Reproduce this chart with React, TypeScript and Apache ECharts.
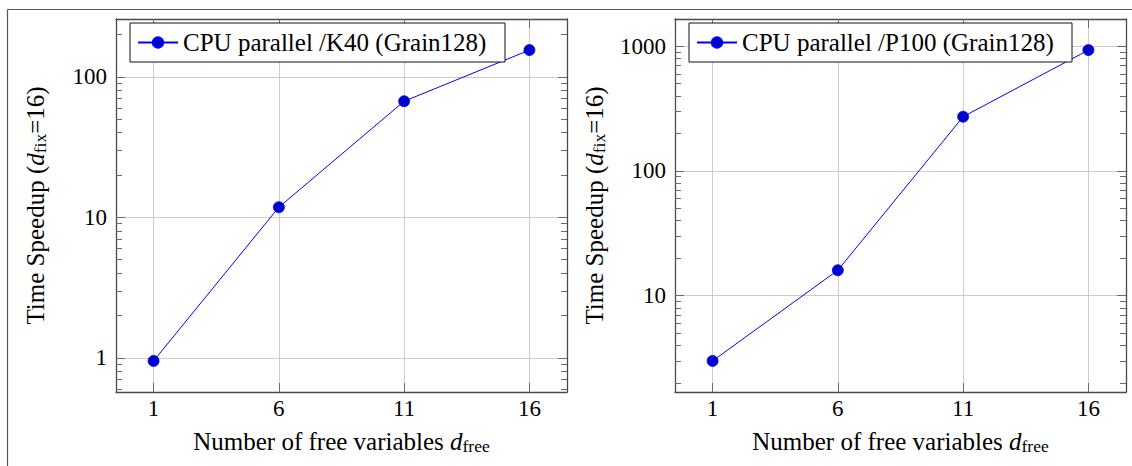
import React, { useEffect, useRef } from "react";
import * as echarts from "echarts";

// ---- data ----
const xValues = [1, 6, 11, 16];
const xTickValues = [1, 6, 11, 16];
const k40Speedup = [0.95, 11.8, 67, 155];
const p100Speedup = [3.0, 16, 272, 930];
const k40YTicks = [1, 10, 100];
const p100YTicks = [10, 100, 1000];
const k40Name = "CPU parallel /K40 (Grain128)";
const p100Name = "CPU parallel /P100 (Grain128)";
const yTitle = "{a|Time Speedup (}{i|d}{s|fix}{a|=16)}";
const xTitle = "{a|Number of free variables }{i|d}{s|free}";

const FONT = "Liberation Serif";
const FS = 25;
const TICK_FS = 23;

function enlarge(lo: number, hi: number): [number, number] {
  const pad = (hi - lo) * 0.1;
  return [lo - pad, hi + pad];
}
function logRange(vals: number[]): [number, number] {
  const logs = vals.map((v) => Math.log10(v));
  const [a, b] = enlarge(Math.min(...logs), Math.max(...logs));
  return [Math.pow(10, a), Math.pow(10, b)];
}
function minorTicks(min: number, max: number): number[] {
  const out: number[] = [];
  for (let e = Math.floor(Math.log10(min)); e <= Math.ceil(Math.log10(max)); e++) {
    for (let m = 2; m <= 9; m++) {
      const v = parseFloat((m * Math.pow(10, e)).toPrecision(6));
      if (v > min && v < max) out.push(v);
    }
  }
  return out;
}

const rich = {
  a: { fontFamily: FONT, fontSize: FS, lineHeight: 28, color: "#000" },
  i: { fontFamily: FONT, fontSize: FS, fontStyle: "italic", lineHeight: 28, color: "#000" },
  s: { fontFamily: FONT, fontSize: 17.5, lineHeight: 17, verticalAlign: "bottom", color: "#000" },
};

const AXIS_COLOR = "#4a4a4a";
const TICK_COLOR = "#6a6a6a";
const GRID_COLOR = "#cccccc";

function buildPanel(i: number, left: number, yVals: number[], yTicks: number[], name: string) {
  const [xmin, xmax] = enlarge(Math.min(...xValues), Math.max(...xValues));
  const [ymin, ymax] = logRange(yVals);
  const minors = minorTicks(ymin, ymax);
  const grid = { left, top: 19, width: 451, height: 373, outerBoundsMode: "none", containLabel: false };
  const xBase = { gridIndex: i, type: "value", min: xmin, max: xmax };
  const xAxes = [
    {
      ...xBase,
      position: "bottom",
      name: xTitle,
      nameLocation: "middle",
      nameGap: 35,
      nameTextStyle: { fontFamily: FONT, fontSize: FS, color: "#000", rich },
      axisLine: { show: true, onZero: false, lineStyle: { color: AXIS_COLOR, width: 1.3 } },
      axisTick: { show: true, inside: true, length: 9, customValues: xTickValues, lineStyle: { color: TICK_COLOR, width: 1 } },
      axisLabel: {
        show: true,
        customValues: xTickValues,
        margin: 5,
        fontFamily: FONT,
        fontSize: TICK_FS,
        color: "#000",
        formatter: (v: number) => String(Math.round(v)),
      },
      splitLine: { show: true, lineStyle: { color: GRID_COLOR, width: 1 } },
    },
    {
      ...xBase,
      position: "top",
      axisLine: { show: true, onZero: false, lineStyle: { color: AXIS_COLOR, width: 1.3 } },
      axisTick: { show: true, inside: true, length: 9, customValues: xTickValues, lineStyle: { color: TICK_COLOR, width: 1 } },
      axisLabel: { show: false },
      splitLine: { show: false },
    },
  ];
  const yBase = { gridIndex: i, type: "log", logBase: 10, min: ymin, max: ymax };
  const yAxes = [
    {
      ...yBase,
      position: "left",
      name: yTitle,
      nameLocation: "middle",
      nameRotate: 90,
      nameGap: 67,
      nameTextStyle: { fontFamily: FONT, fontSize: FS, color: "#000", rich },
      axisLine: { show: true, onZero: false, lineStyle: { color: AXIS_COLOR, width: 1.3 } },
      axisTick: { show: true, inside: true, length: 9, customValues: yTicks, lineStyle: { color: TICK_COLOR, width: 1 } },
      axisLabel: {
        show: true,
        customValues: yTicks,
        margin: 9,
        fontFamily: FONT,
        fontSize: TICK_FS,
        color: "#000",
        formatter: (v: number) => String(Math.round(v)),
      },
      splitLine: { show: true, lineStyle: { color: GRID_COLOR, width: 1 } },
    },
    {
      ...yBase,
      position: "left",
      axisLine: { show: false, onZero: false },
      axisTick: { show: true, inside: true, length: 6, customValues: minors, lineStyle: { color: TICK_COLOR, width: 1 } },
      axisLabel: { show: false },
      splitLine: { show: false },
    },
    {
      ...yBase,
      position: "right",
      axisLine: { show: true, onZero: false, lineStyle: { color: AXIS_COLOR, width: 1.3 } },
      axisTick: { show: true, inside: true, length: 9, customValues: yTicks, lineStyle: { color: TICK_COLOR, width: 1 } },
      axisLabel: { show: false },
      splitLine: { show: false },
    },
    {
      ...yBase,
      position: "right",
      axisLine: { show: false, onZero: false },
      axisTick: { show: true, inside: true, length: 6, customValues: minors, lineStyle: { color: TICK_COLOR, width: 1 } },
      axisLabel: { show: false },
      splitLine: { show: false },
    },
  ];
  const series = {
    name,
    type: "line",
    xAxisIndex: 2 * i,
    yAxisIndex: 4 * i,
    data: xValues.map((x, k) => [x, yVals[k]]),
    symbol: "circle",
    symbolSize: 11,
    lineStyle: { color: "#0000ff", width: 1 },
    itemStyle: { color: "#0000cc", borderColor: "#0000ff", borderWidth: 0.8 },
    emphasis: { disabled: true },
    z: 3,
  };
  return { grid, xAxes, yAxes, series };
}

export default function App() {
  const ref = useRef<HTMLDivElement>(null);
  useEffect(() => {
    if (!ref.current) return;
    const chart = echarts.init(ref.current, null, { renderer: "svg" });
    const p0 = buildPanel(0, 116, k40Speedup, k40YTicks, k40Name);
    const p1 = buildPanel(1, 675, p100Speedup, p100YTicks, p100Name);
    const legendBase = {
      orient: "horizontal",
      top: 23,
      padding: [7, 14, 7, 7],
      itemWidth: 40,
      itemHeight: 13,
      itemGap: 0,
      borderColor: "#111",
      borderWidth: 1,
      borderRadius: 0,
      backgroundColor: "#fff",
      selectedMode: false,
      z: 10,
    };
    const legendText = (w: number) => ({
      fontFamily: FONT,
      fontSize: FS,
      color: "#000",
      lineHeight: 25,
      width: w,
      rich: { a: { fontFamily: FONT, fontSize: FS, color: "#000", lineHeight: 25 } },
    });
    chart.setOption({
      animation: false,
      backgroundColor: "#fff",
      textStyle: { fontFamily: FONT },
      grid: [p0.grid, p1.grid],
      xAxis: [...p0.xAxes, ...p1.xAxes],
      yAxis: [...p0.yAxes, ...p1.yAxes],
      series: [p0.series, p1.series],
      legend: [
        {
          ...legendBase,
          left: 130,
          data: [k40Name],
          formatter: (n: string) => `{a|${n}}`,
          textStyle: legendText(308),
        },
        {
          ...legendBase,
          left: 689,
          data: [p100Name],
          formatter: (n: string) => `{a|${n}}`,
          textStyle: legendText(316),
        },
      ],
      graphic: [
        { type: "line", shape: { x1: 7.5, y1: 9.5, x2: 1132, y2: 9.5 }, style: { stroke: "#555", lineWidth: 1.2 }, silent: true },
        { type: "line", shape: { x1: 7.5, y1: 9.5, x2: 7.5, y2: 466 }, style: { stroke: "#555", lineWidth: 1.2 }, silent: true },
      ],
    });
    return () => chart.dispose();
  }, []);
  return (
    <div
      ref={ref}
      style={{ position: "absolute", left: 0, top: 0, width: 1132, height: 466, background: "#fff" }}
    />
  );
}
